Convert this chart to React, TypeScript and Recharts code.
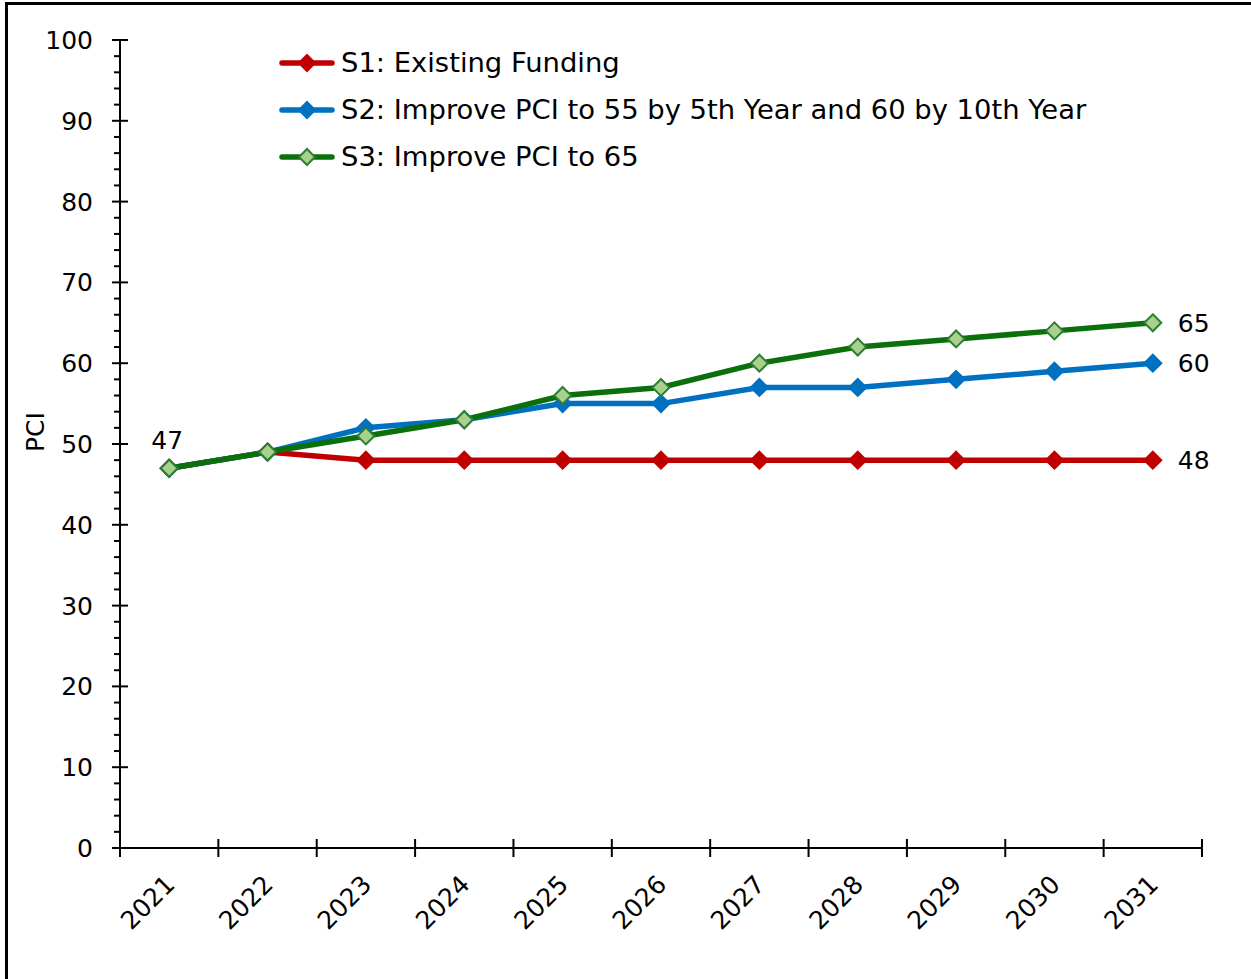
import React from 'react';
import { LineChart, Line, XAxis, YAxis, LabelList, Label } from 'recharts';

const years = [2021, 2022, 2023, 2024, 2025, 2026, 2027, 2028, 2029, 2030, 2031];
const s1Values = [47, 49, 48, 48, 48, 48, 48, 48, 48, 48, 48];
const s2Values = [47, 49, 52, 53, 55, 55, 57, 57, 58, 59, 60];
const s3Values = [47, 49, 51, 53, 56, 57, 60, 62, 63, 64, 65];
const seriesNames = [
  'S1: Existing Funding',
  'S2: Improve PCI to 55 by 5th Year and 60 by 10th Year',
  'S3: Improve PCI to 65',
];
const yTicks = [0, 2, 4, 6, 8, 10, 12, 14, 16, 18, 20, 22, 24, 26, 28, 30, 32, 34, 36, 38, 40, 42, 44, 46, 48, 50, 52, 54, 56, 58, 60, 62, 64, 66, 68, 70, 72, 74, 76, 78, 80, 82, 84, 86, 88, 90, 92, 94, 96, 98, 100];
const yLabelTicks = [0, 10, 20, 30, 40, 50, 60, 70, 80, 90, 100];

const FONT = '"DejaVu Sans", Verdana, sans-serif';
const FS = 25;
const LEGEND_FS = 27.4;

const COLORS = {
  s1: { line: '#C00000', fill: '#C00000', stroke: '#C00000' },
  s2: { line: '#0070C0', fill: '#0070C0', stroke: '#0070C0' },
  s3: { line: '#0B700B', fill: '#A9D18E', stroke: '#2E7D32' },
};

const data = years.map((year, i) => ({ year, s1: s1Values[i], s2: s2Values[i], s3: s3Values[i] }));
const xTicks: number[] = [];
years.forEach((y) => { xTicks.push(y - 0.5); xTicks.push(y); });
xTicks.push(years[years.length - 1] + 0.5);

const makeDot = (fill: string, stroke: string) => (props: any) => {
  const { cx, cy, index } = props;
  if (cx == null || cy == null) return <g key={index} />;
  const r = 8.5;
  return (
    <polygon
      key={index}
      points={`${cx},${cy - r} ${cx + r},${cy} ${cx},${cy + r} ${cx - r},${cy}`}
      fill={fill}
      stroke={stroke}
      strokeWidth={2}
    />
  );
};

const XTick = (props: any) => {
  const { x, y, payload } = props;
  const v = payload.value;
  if (!Number.isInteger(v)) {
    return <line x1={x} x2={x} y1={y - 9} y2={y + 9} stroke="#000" strokeWidth={2} />;
  }
  const tx = x + 7;
  const ty = y + 38;
  return (
    <text x={tx} y={ty} transform={`rotate(-45 ${tx} ${ty})`} textAnchor="end" fontFamily={FONT} fontSize={FS} fill="#000">
      {v}
    </text>
  );
};

const YTick = (props: any) => {
  const { x, y, payload } = props;
  const v = payload.value;
  if (yLabelTicks.includes(v)) {
    return (
      <g>
        <line x1={x - 8} x2={x + 8} y1={y} y2={y} stroke="#000" strokeWidth={2} />
        <text x={x - 27} y={y} dy="0.36em" textAnchor="end" fontFamily={FONT} fontSize={FS} fill="#000">{v}</text>
      </g>
    );
  }
  return <line x1={x - 6} x2={x} y1={y} y2={y} stroke="#000" strokeWidth={2} />;
};

const makeEndLabel = (lastText: boolean, firstText: boolean) => (props: any) => {
  const { x, y, value, index } = props;
  if (lastText && index === years.length - 1) {
    return <text x={x + 25} y={y} dy="0.36em" textAnchor="start" fontFamily={FONT} fontSize={FS} fill="#000">{value}</text>;
  }
  if (firstText && index === 0) {
    return <text x={x - 2} y={y - 28} dy="0.36em" textAnchor="middle" fontFamily={FONT} fontSize={FS} fill="#000">{value}</text>;
  }
  return null;
};

const LegendIcon = ({ c }: { c: { line: string; fill: string; stroke: string } }) => (
  <svg width={56} height={20} style={{ display: 'block' }}>
    <line x1={3} x2={53} y1={10} y2={10} stroke={c.line} strokeWidth={5.5} strokeLinecap="round" />
    <polygon points="28,2 36,10 28,18 20,10" fill={c.fill} stroke={c.stroke} strokeWidth={2} />
  </svg>
);

export default function App() {
  const legendItems = [
    { name: seriesNames[0], c: COLORS.s1 },
    { name: seriesNames[1], c: COLORS.s2 },
    { name: seriesNames[2], c: COLORS.s3 },
  ];
  return (
    <div style={{ position: 'absolute', left: 0, top: 0, width: 1251, height: 979, overflow: 'hidden', background: '#fff' }}>
      <div style={{ position: 'absolute', left: 5, top: 2, width: 1260, height: 990, borderTop: '3px solid #000', borderLeft: '3px solid #000' }} />
      <div style={{ position: 'absolute', left: 0, top: 0 }}>
        <LineChart width={1251} height={979} data={data} margin={{ top: 40, right: 49, left: 0, bottom: 0 }}>
          <XAxis
            dataKey="year"
            type="number"
            domain={[2020.5, 2031.5]}
            ticks={xTicks}
            interval={0}
            tick={<XTick />}
            tickLine={false}
            tickSize={0}
            tickMargin={0}
            axisLine={{ stroke: '#000', strokeWidth: 2 }}
            height={131}
            allowDataOverflow
          />
          <YAxis
            type="number"
            domain={[0, 100]}
            ticks={yTicks}
            interval={0}
            tick={<YTick />}
            tickLine={false}
            tickSize={0}
            tickMargin={0}
            axisLine={{ stroke: '#000', strokeWidth: 2 }}
            width={120}
          >
            <Label
              content={(p: any) => {
                const vb = p.viewBox || { x: 0, y: 40, width: 120, height: 808 };
                const cx = vb.x + 35;
                const cy = vb.y + vb.height / 2 - 12;
                return (
                  <text x={cx} y={cy} dy="0.36em" transform={`rotate(-90 ${cx} ${cy})`} textAnchor="middle" fontFamily={FONT} fontSize={FS} fill="#000">
                    PCI
                  </text>
                );
              }}
            />
          </YAxis>
          <Line dataKey="s1" name={seriesNames[0]} stroke={COLORS.s1.line} strokeWidth={5.5} dot={makeDot(COLORS.s1.fill, COLORS.s1.stroke)} activeDot={false} isAnimationActive={false}>
            <LabelList dataKey="s1" content={makeEndLabel(true, true)} />
          </Line>
          <Line dataKey="s2" name={seriesNames[1]} stroke={COLORS.s2.line} strokeWidth={5.5} dot={makeDot(COLORS.s2.fill, COLORS.s2.stroke)} activeDot={false} isAnimationActive={false}>
            <LabelList dataKey="s2" content={makeEndLabel(true, false)} />
          </Line>
          <Line dataKey="s3" name={seriesNames[2]} stroke={COLORS.s3.line} strokeWidth={5.5} dot={makeDot(COLORS.s3.fill, COLORS.s3.stroke)} activeDot={false} isAnimationActive={false}>
            <LabelList dataKey="s3" content={makeEndLabel(true, false)} />
          </Line>
        </LineChart>
      </div>
      <div style={{ position: 'absolute', left: 279, top: 39, fontFamily: FONT, fontSize: LEGEND_FS, color: '#000' }}>
        {legendItems.map((it) => (
          <div key={it.name} style={{ display: 'flex', alignItems: 'center', height: 47, lineHeight: '47px', whiteSpace: 'nowrap' }}>
            <LegendIcon c={it.c} />
            <span style={{ marginLeft: 6 }}>{it.name}</span>
          </div>
        ))}
      </div>
    </div>
  );
}
